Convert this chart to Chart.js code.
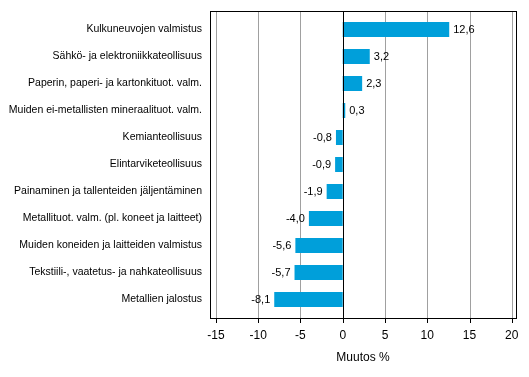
<!DOCTYPE html>
<html><head><meta charset="utf-8">
<script src="https://cdn.jsdelivr.net/npm/chart.js@4/dist/chart.umd.min.js"></script>
<style>html,body{margin:0;padding:0;background:#fff}#w{width:529px;height:377px}</style>
</head><body><div id="w"><canvas id="c" width="529" height="377"></canvas></div>
<script>
const categories = [
  "Kulkuneuvojen valmistus",
  "Sähkö- ja elektroniikkateollisuus",
  "Paperin, paperi- ja kartonkituot. valm.",
  "Muiden ei-metallisten mineraalituot. valm.",
  "Kemianteollisuus",
  "Elintarviketeollisuus",
  "Painaminen ja tallenteiden jäljentäminen",
  "Metallituot. valm. (pl. koneet ja laitteet)",
  "Muiden koneiden ja laitteiden valmistus",
  "Tekstiili-, vaatetus- ja nahkateollisuus",
  "Metallien jalostus"
];
const values = [12.6, 3.2, 2.3, 0.3, -0.8, -0.9, -1.9, -4.0, -5.6, -5.7, -8.1];
const xTicks = [-15, -10, -5, 0, 5, 10, 15, 20];
const axisTitle = "Muutos %";

const FONT = "'Liberation Sans', Arial, sans-serif";
const INSET = 5;

const gridPlugin = {
  id: 'grid',
  beforeDatasetsDraw(chart) {
    const a = chart.chartArea, ctx = chart.ctx, xs = chart.scales.x;
    const top = Math.round(a.top) - INSET, bot = Math.round(a.bottom) + INSET;
    ctx.save();
    ctx.lineWidth = 1;
    xTicks.forEach(v => {
      const x = Math.round(xs.getPixelForValue(v)) + 0.5;
      ctx.strokeStyle = v === 0 ? '#000' : '#a0a0a0';
      ctx.beginPath(); ctx.moveTo(x, top); ctx.lineTo(x, bot); ctx.stroke();
      ctx.strokeStyle = '#000';
      ctx.beginPath(); ctx.moveTo(x, bot); ctx.lineTo(x, bot + 5); ctx.stroke();
    });
    ctx.restore();
  },
  afterDatasetsDraw(chart) {
    const a = chart.chartArea, ctx = chart.ctx, xs = chart.scales.x;
    const top = Math.round(a.top) - INSET, bot = Math.round(a.bottom) + INSET;
    ctx.save();
    ctx.strokeStyle = '#000'; ctx.lineWidth = 1;
    const x0 = Math.round(xs.getPixelForValue(0)) + 0.5;
    ctx.beginPath(); ctx.moveTo(x0, top); ctx.lineTo(x0, bot); ctx.stroke();
    ctx.strokeRect(Math.round(a.left) + 0.5, top + 0.5, Math.round(a.right - a.left), bot - top);
    // value labels
    const meta = chart.getDatasetMeta(0);
    ctx.font = "11px " + FONT;
    ctx.fillStyle = "#000";
    ctx.textBaseline = "middle";
    meta.data.forEach((bar, i) => {
      const v = values[i];
      const txt = v.toFixed(1).replace('.', ',');
      if (v >= 0) { ctx.textAlign = 'left'; ctx.fillText(txt, bar.x + 4, bar.y); }
      else { ctx.textAlign = 'right'; ctx.fillText(txt, bar.x - 4, bar.y); }
    });
    ctx.restore();
  }
};

new Chart(document.getElementById('c'), {
  type: 'bar',
  data: {
    labels: categories,
    datasets: [{
      data: values,
      backgroundColor: '#009FDA',
      borderWidth: 0,
      barPercentage: 0.556,
      categoryPercentage: 1.0
    }]
  },
  options: {
    indexAxis: 'y',
    responsive: false,
    animation: false,
    layout: { padding: { top: 16, right: 13, bottom: 12, left: 0 } },
    plugins: { legend: { display: false }, tooltip: { enabled: false } },
    scales: {
      x: {
        min: -15.7, max: 20.5,
        afterBuildTicks(scale) { scale.ticks = xTicks.map(v => ({ value: v })); },
        grid: { display: false, drawTicks: false },
        border: { display: false },
        ticks: { color: '#000', font: { family: FONT, size: 12 }, padding: 15, maxRotation: 0, callback: v => String(v) },
        title: { display: true, text: axisTitle, color: '#000', font: { family: FONT, size: 12 }, padding: { top: 8, bottom: 0 } },
        afterFit(scale) { scale.height = 52; scale.paddingLeft = 0; scale.paddingRight = 0; }
      },
      y: {
        grid: { display: false, drawTicks: false },
        border: { display: false },
        ticks: { color: '#000', font: { family: FONT, size: 10.5 }, padding: 8, autoSkip: false },
        afterFit(scale) { scale.width = 210; scale.paddingTop = 0; scale.paddingBottom = 0; }
      }
    }
  },
  plugins: [gridPlugin]
});
</script></body></html>
